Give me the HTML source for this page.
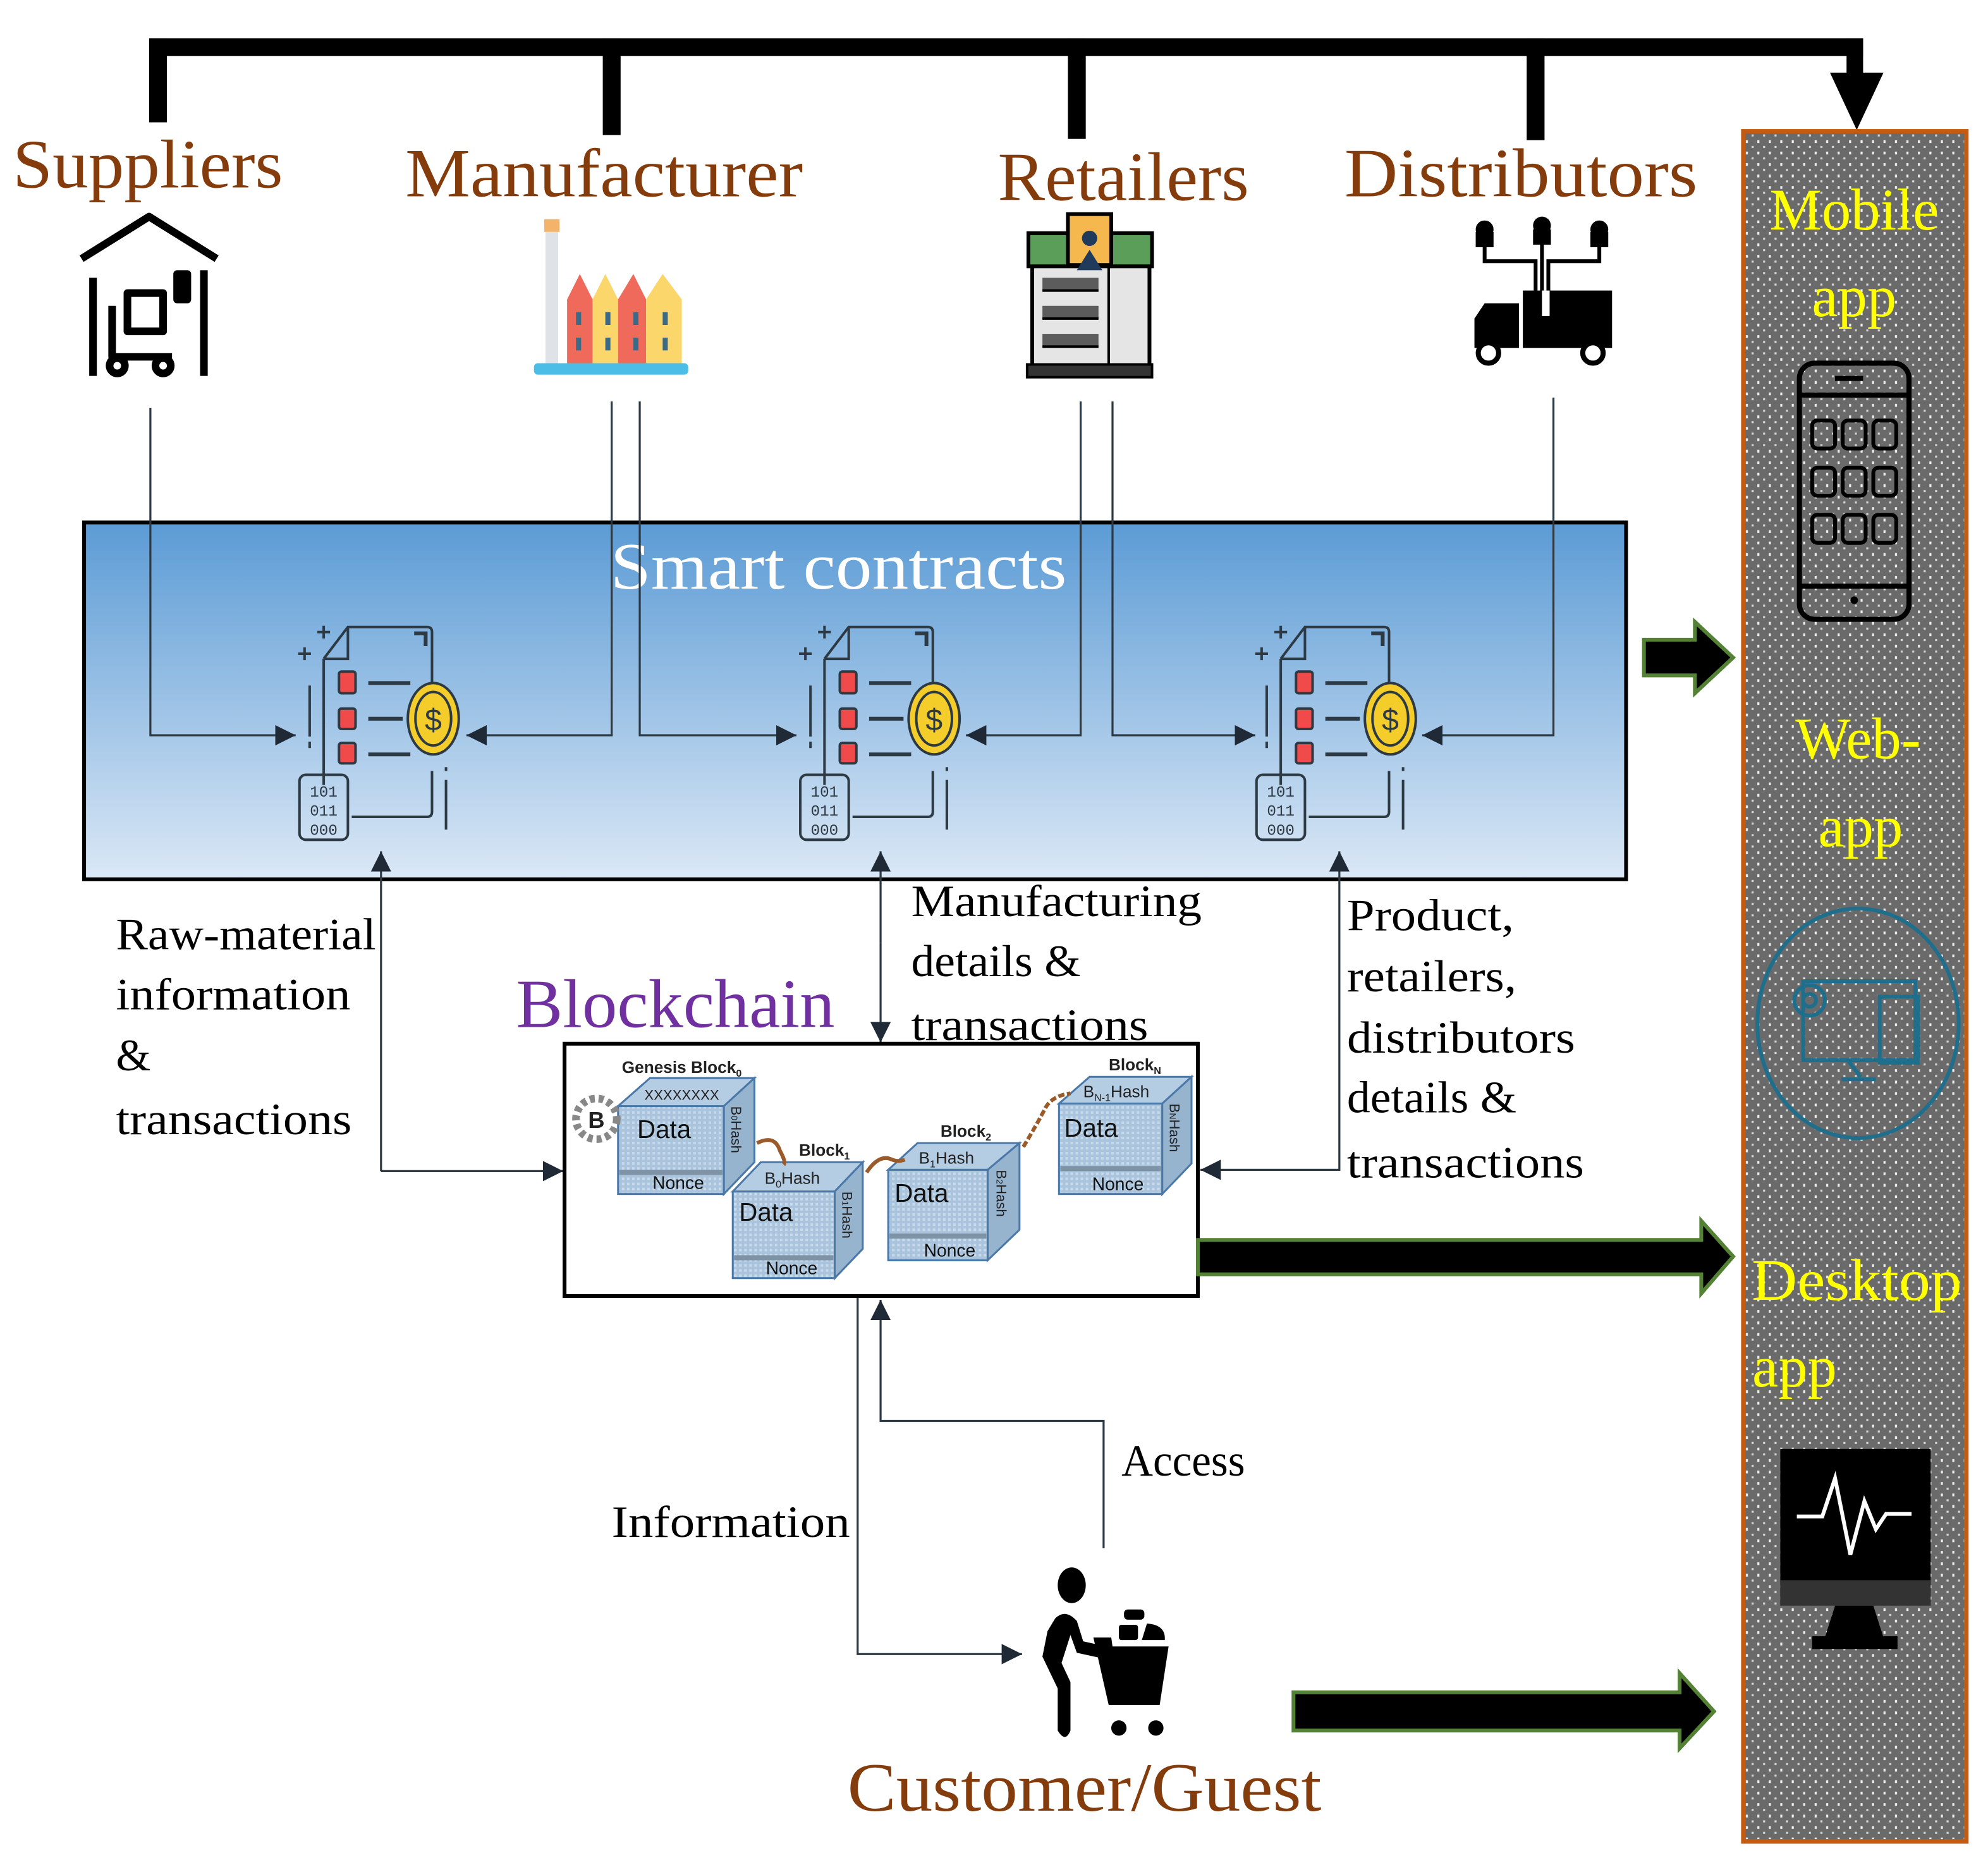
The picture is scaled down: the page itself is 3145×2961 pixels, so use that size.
<!DOCTYPE html>
<html><head><meta charset="utf-8"><style>
html,body{margin:0;padding:0;background:#fff;}
svg{display:block;}
</style></head><body>
<svg width="3145" height="2961" viewBox="0 0 1560 1469" preserveAspectRatio="none" xmlns="http://www.w3.org/2000/svg">
<defs>
<linearGradient id="sc" x1="0" y1="0" x2="0" y2="1">
<stop offset="0" stop-color="#5b9bd5"/><stop offset="1" stop-color="#dbe8f6"/>
</linearGradient>
<pattern id="dots" width="9" height="9" patternUnits="userSpaceOnUse">
<rect width="9" height="9" fill="#6a6a6a"/><rect x="2" y="2" width="1.6" height="2.2" fill="#f0f0f0"/><rect x="6.5" y="6.5" width="1.6" height="1.6" fill="#d8d8d8"/>
</pattern>
<pattern id="grid" width="4" height="4" patternUnits="userSpaceOnUse">
<rect width="4" height="4" fill="#a9c4dc"/><rect width="2" height="2" fill="#c9dbea"/>
</pattern>
<marker id="ar" viewBox="0 0 10 10" refX="10" refY="5" markerWidth="16" markerHeight="16" markerUnits="userSpaceOnUse" orient="auto"><path d="M0,0 L10,5 L0,10 z" fill="#1f2a36"/></marker>
<g id="contract" fill="none" stroke="#2d3a44" stroke-width="2">
<path d="M254 517 L254 616"/>
<path d="M254 517 L273 492 L335 492 Q339 492 339 496 L339 545"/>
<path d="M254 517 L273 517 L273 492"/>
<path d="M339 605 L339 637 Q339 641 335 641 L276 641"/>
<path d="M325 497 L334 497 L334 507" stroke-width="3"/>
<rect x="266" y="527" width="13" height="17" rx="2" fill="#f04a4a"/>
<rect x="266" y="556" width="13" height="16" rx="2" fill="#f04a4a"/>
<rect x="266" y="583" width="13" height="16" rx="2" fill="#f04a4a"/>
<path d="M289 536 L322 536 M289 564 L316 564 M289 592 L322 592" stroke-width="3"/>
<ellipse cx="340" cy="564" rx="20" ry="28" fill="#f5cd2a"/>
<ellipse cx="340" cy="564" rx="14" ry="21"/>
<text x="340" y="573" font-family="Liberation Sans, sans-serif" font-size="24" fill="#2d3a44" stroke="none" text-anchor="middle">$</text>
<rect x="235" y="608" width="38" height="51" rx="5"/>
<text x="254" y="625" font-family="Liberation Mono, monospace" font-size="12" fill="#2d3a44" stroke="none" text-anchor="middle">101</text>
<text x="254" y="640" font-family="Liberation Mono, monospace" font-size="12" fill="#2d3a44" stroke="none" text-anchor="middle">011</text>
<text x="254" y="655" font-family="Liberation Mono, monospace" font-size="12" fill="#2d3a44" stroke="none" text-anchor="middle">000</text>
<path d="M243 538 L243 578 M243 582 L243 587 M350 602 L350 605 M350 612 L350 651"/>
<path d="M249 496 L259 496 M254 491 L254 501 M234 513 L244 513 M239 508 L239 518"/>
</g>
</defs>

<!-- top bus -->
<g fill="#000">
<rect x="118" y="30" width="1344" height="14"/>
<rect x="117" y="30" width="14" height="66"/>
<rect x="473" y="30" width="14" height="76"/>
<rect x="838" y="30" width="14" height="79"/>
<rect x="1198" y="30" width="14" height="80"/>
<rect x="1449" y="30" width="13" height="30"/>
<path d="M1436 57 L1478 57 L1457 102 z"/>
</g>

<!-- stakeholder labels -->
<g font-family="Liberation Serif, serif" fill="#843c0c" font-size="54">
<text x="10" y="147" textLength="212" lengthAdjust="spacingAndGlyphs">Suppliers</text>
<text x="318" y="154" textLength="312" lengthAdjust="spacingAndGlyphs">Manufacturer</text>
<text x="783" y="157" textLength="197" lengthAdjust="spacingAndGlyphs">Retailers</text>
<text x="1055" y="154" textLength="277" lengthAdjust="spacingAndGlyphs">Distributors</text>
</g>

<!-- supplier icon -->
<g fill="none" stroke="#000" stroke-width="6" stroke-linejoin="round">
<path d="M64 203 L117 170 L170 203"/>
<path d="M73 218 L73 295 M160 212 L160 295"/>
<path d="M88 240 L88 280 L135 280 M100 230 L128 230 L128 260 L100 260 z"/>
<circle cx="92" cy="287" r="6"/><circle cx="128" cy="287" r="6"/>
<rect x="139" y="215" width="8" height="20" fill="#000"/>
</g>

<!-- manufacturer icon -->
<g>
<rect x="427" y="172" width="12" height="10" fill="#f4b36a"/>
<rect x="428" y="182" width="10" height="105" fill="#dfe3e8"/>
<path d="M445 287 L445 235 L455 215 L465 235 L465 287z" fill="#f06a5b"/>
<path d="M465 287 L465 235 L475 215 L485 235 L485 287z" fill="#fbd66a"/>
<path d="M485 287 L485 235 L497 215 L507 235 L507 287z" fill="#f06a5b"/>
<path d="M507 287 L507 235 L520 215 L535 235 L535 287z" fill="#fbd66a"/>
<g fill="#3b6a86"><rect x="452" y="245" width="4" height="10"/><rect x="475" y="245" width="4" height="10"/><rect x="497" y="245" width="4" height="10"/><rect x="520" y="245" width="4" height="10"/><rect x="452" y="265" width="4" height="10"/><rect x="475" y="265" width="4" height="10"/><rect x="497" y="265" width="4" height="10"/><rect x="520" y="265" width="4" height="10"/></g>
<rect x="419" y="285" width="121" height="9" rx="3" fill="#4bbde6"/>
</g>

<!-- retailer icon -->
<g>
<rect x="810" y="200" width="92" height="90" fill="#e5e5e5" stroke="#000" stroke-width="3"/>
<rect x="807" y="183" width="97" height="26" fill="#5a9e5a" stroke="#000" stroke-width="3"/>
<rect x="838" y="168" width="34" height="40" fill="#f4b84e" stroke="#000" stroke-width="3"/>
<circle cx="855" cy="187" r="6" fill="#1f3a5a"/>
<path d="M845 212 L855 196 L865 212 z" fill="#1f3a5a"/>
<g stroke="#000" stroke-width="2"><path d="M818 228 L862 228 M818 250 L862 250 M818 272 L862 272"/><path d="M870 210 L870 285"/></g>
<g fill="#000"><rect x="818" y="218" width="44" height="10" opacity=".6"/><rect x="818" y="240" width="44" height="10" opacity=".6"/><rect x="818" y="262" width="44" height="10" opacity=".6"/></g>
<rect x="806" y="286" width="98" height="10" fill="#333" stroke="#000" stroke-width="2"/>
</g>

<!-- distributor icon -->
<g fill="#000">
<circle cx="1165" cy="180" r="7"/><circle cx="1210" cy="177" r="7"/><circle cx="1255" cy="180" r="7"/>
<rect x="1158" y="182" width="14" height="12"/><rect x="1203" y="180" width="14" height="12"/><rect x="1248" y="182" width="14" height="12"/>
<path d="M1165 194 L1165 205 L1205 205 L1205 230 M1255 194 L1255 205 L1215 205 L1215 230 M1210 192 L1210 230" stroke="#000" stroke-width="3" fill="none"/>
<rect x="1195" y="228" width="70" height="45"/>
<path d="M1157 250 L1165 238 L1192 238 L1192 273 L1157 273 z"/>
<circle cx="1168" cy="277" r="8" fill="#fff" stroke="#000" stroke-width="4"/>
<circle cx="1250" cy="277" r="8" fill="#fff" stroke="#000" stroke-width="4"/>
<rect x="1210" y="228" width="6" height="20" fill="#fff"/>
</g>

<!-- right panel -->
<rect x="1368" y="103" width="175" height="1342" fill="url(#dots)" stroke="#c55a11" stroke-width="3.5"/>
<g font-family="Liberation Serif, serif" fill="#ffff00" font-size="46" text-anchor="middle">
<text x="1455" y="180">Mobile</text>
<text x="1455" y="248">app</text>
<text x="1458" y="595">Web-</text>
<text x="1460" y="664">app</text>
<text x="1457" y="1020" textLength="165" lengthAdjust="spacingAndGlyphs">Desktop</text>
<text x="1375" y="1088" text-anchor="start">app</text>
</g>
<!-- phone -->
<g fill="none" stroke="#000" stroke-width="4">
<rect x="1412" y="285" width="86" height="201" rx="12"/>
<path d="M1412 310 L1498 310 M1412 460 L1498 460"/>
<path d="M1440 297 L1462 297"/>
<g stroke-width="3">
<rect x="1422" y="330" width="18" height="22" rx="4"/><rect x="1446" y="330" width="18" height="22" rx="4"/><rect x="1470" y="330" width="18" height="22" rx="4"/>
<rect x="1422" y="367" width="18" height="22" rx="4"/><rect x="1446" y="367" width="18" height="22" rx="4"/><rect x="1470" y="367" width="18" height="22" rx="4"/>
<rect x="1422" y="404" width="18" height="22" rx="4"/><rect x="1446" y="404" width="18" height="22" rx="4"/><rect x="1470" y="404" width="18" height="22" rx="4"/>
</g>
</g>
<circle cx="1455" cy="471" r="3" fill="#000"/>
<!-- web -->
<ellipse cx="1458" cy="803" rx="79" ry="90" fill="none" stroke="#1f6e8c" stroke-width="3"/>
<g fill="none" stroke="#1f6e8c" stroke-width="3">
<rect x="1415" y="770" width="88" height="62"/>
<rect x="1475" y="782" width="30" height="52"/>
<path d="M1450 832 L1460 845 M1445 847 L1472 847"/>
<circle cx="1420" cy="785" r="12"/><circle cx="1420" cy="785" r="5"/>
</g>
<!-- desktop -->
<rect x="1397" y="1137" width="118" height="122" fill="#000"/>
<rect x="1397" y="1240" width="118" height="20" fill="#333"/>
<path d="M1440 1260 L1470 1260 L1478 1285 L1432 1285 z" fill="#000"/>
<rect x="1422" y="1284" width="67" height="10" fill="#000"/>
<path d="M1410 1190 L1430 1190 L1440 1160 L1452 1220 L1463 1178 L1472 1200 L1480 1188 L1500 1188" fill="none" stroke="#fff" stroke-width="3"/>

<!-- smart contracts box -->
<rect x="66" y="410" width="1210" height="280" fill="url(#sc)" stroke="#000" stroke-width="3"/>
<text x="658" y="462" font-family="Liberation Serif, serif" font-size="52" fill="#fff" text-anchor="middle" textLength="358" lengthAdjust="spacingAndGlyphs">Smart contracts</text>
<use href="#contract"/>
<use href="#contract" transform="translate(393 0)"/>
<use href="#contract" transform="translate(751 0)"/>

<!-- thin connectors -->
<g fill="none" stroke="#2d3a44" stroke-width="1.6">
<path d="M118 320 L118 577 L232 577" marker-end="url(#ar)"/>
<path d="M480 315 L480 577 L366 577" marker-end="url(#ar)"/>
<path d="M502 315 L502 577 L625 577" marker-end="url(#ar)"/>
<path d="M848 315 L848 577 L758 577" marker-end="url(#ar)"/>
<path d="M873 315 L873 577 L985 577" marker-end="url(#ar)"/>
<path d="M1219 312 L1219 577 L1116 577" marker-end="url(#ar)"/>
<path d="M299 919 L299 668" marker-end="url(#ar)"/>
<path d="M299 919 L442 919" marker-end="url(#ar)"/>
<path d="M691 740 L691 668" marker-end="url(#ar)"/>
<path d="M691 740 L691 818" marker-end="url(#ar)"/>
<path d="M1051 800 L1051 668" marker-end="url(#ar)"/>
<path d="M1051 800 L1051 918 L942 918" marker-end="url(#ar)"/>
<path d="M673 1018 L673 1298 L802 1298" marker-end="url(#ar)"/>
<path d="M866 1215 L866 1115 L691 1115 L691 1020" marker-end="url(#ar)"/>
</g>

<!-- labels -->
<g font-family="Liberation Serif, serif" font-size="35" fill="#000" lengthAdjust="spacingAndGlyphs">
<text x="91" y="745" textLength="204" lengthAdjust="spacingAndGlyphs">Raw-material</text>
<text x="91" y="792" textLength="184" lengthAdjust="spacingAndGlyphs">information</text>
<text x="91" y="840">&amp;</text>
<text x="91" y="890" textLength="185" lengthAdjust="spacingAndGlyphs">transactions</text>
<text x="715" y="719" textLength="228" lengthAdjust="spacingAndGlyphs">Manufacturing</text>
<text x="715" y="766" textLength="133" lengthAdjust="spacingAndGlyphs">details &amp;</text>
<text x="715" y="816" textLength="186" lengthAdjust="spacingAndGlyphs">transactions</text>
<text x="1057" y="730" textLength="131" lengthAdjust="spacingAndGlyphs">Product,</text>
<text x="1057" y="778" textLength="133" lengthAdjust="spacingAndGlyphs">retailers,</text>
<text x="1057" y="826" textLength="179" lengthAdjust="spacingAndGlyphs">distributors</text>
<text x="1057" y="873" textLength="133" lengthAdjust="spacingAndGlyphs">details &amp;</text>
<text x="1057" y="924" textLength="186" lengthAdjust="spacingAndGlyphs">transactions</text>
<text x="880" y="1158" textLength="97" lengthAdjust="spacingAndGlyphs">Access</text>
<text x="480" y="1206" textLength="187" lengthAdjust="spacingAndGlyphs">Information</text>
</g>
<text x="405" y="806" font-family="Liberation Serif, serif" font-size="54" fill="#7030a0" textLength="250" lengthAdjust="spacingAndGlyphs">Blockchain</text>

<!-- blockchain box -->
<rect x="443" y="819" width="497" height="198" fill="#fff" stroke="#000" stroke-width="3"/>
<g font-family="Liberation Sans, sans-serif">
<g stroke="#4a78a8" stroke-width="1.5">
<path d="M485 868 L510 846 L592 846 L568 868 z" fill="#b5cde2"/>
<path d="M568 868 L592 846 L592 912 L568 937 z" fill="#97b4cf"/>
<rect x="485" y="868" width="83" height="69" fill="url(#grid)"/>
</g>
<rect x="486" y="918" width="81" height="4" fill="#7f93a6"/>
<text x="535" y="863" font-size="11" text-anchor="middle" fill="#222">XXXXXXXX</text>
<text x="500" y="893" font-size="20" fill="#111">Data</text>
<text x="512" y="933" font-size="14" fill="#111">Nonce</text>
<text x="488" y="842" font-size="13" font-weight="bold" fill="#222">Genesis Block<tspan font-size="8" dy="3">0</tspan></text>
<circle cx="468" cy="878" r="16" fill="#fff" stroke="#888" stroke-width="6" stroke-dasharray="4 3"/>
<text x="468" y="885" font-size="18" font-weight="bold" text-anchor="middle" fill="#222">B</text>
<g stroke="#4a78a8" stroke-width="1.5">
<path d="M575 935 L597 912 L677 912 L655 935 z" fill="#b5cde2"/>
<path d="M655 935 L677 912 L677 980 L655 1003 z" fill="#97b4cf"/>
<rect x="575" y="935" width="80" height="68" fill="url(#grid)"/>
</g>
<rect x="576" y="985" width="78" height="4" fill="#7f93a6"/>
<text x="600" y="929" font-size="13" fill="#222">B<tspan font-size="8" dy="3">0</tspan><tspan dy="-3">Hash</tspan></text>
<text x="580" y="958" font-size="20" fill="#111">Data</text>
<text x="601" y="1000" font-size="14" fill="#111">Nonce</text>
<text x="627" y="907" font-size="13" font-weight="bold" fill="#222">Block<tspan font-size="8" dy="3">1</tspan></text>
<g stroke="#4a78a8" stroke-width="1.5">
<path d="M697 918 L720 897 L800 897 L775 918 z" fill="#b5cde2"/>
<path d="M775 918 L800 897 L800 965 L775 989 z" fill="#97b4cf"/>
<rect x="697" y="918" width="78" height="71" fill="url(#grid)"/>
</g>
<rect x="698" y="968" width="76" height="4" fill="#7f93a6"/>
<text x="721" y="913" font-size="13" fill="#222">B<tspan font-size="8" dy="3">1</tspan><tspan dy="-3">Hash</tspan></text>
<text x="702" y="943" font-size="20" fill="#111">Data</text>
<text x="725" y="986" font-size="14" fill="#111">Nonce</text>
<text x="738" y="892" font-size="13" font-weight="bold" fill="#222">Block<tspan font-size="8" dy="3">2</tspan></text>
<g stroke="#4a78a8" stroke-width="1.5">
<path d="M831 866 L855 845 L935 845 L912 866 z" fill="#b5cde2"/>
<path d="M912 866 L935 845 L935 913 L912 937 z" fill="#97b4cf"/>
<rect x="831" y="866" width="81" height="71" fill="url(#grid)"/>
</g>
<rect x="832" y="915" width="79" height="4" fill="#7f93a6"/>
<text x="850" y="861" font-size="13" fill="#222">B<tspan font-size="8" dy="3">N-1</tspan><tspan dy="-3">Hash</tspan></text>
<text x="835" y="892" font-size="20" fill="#111">Data</text>
<text x="857" y="934" font-size="14" fill="#111">Nonce</text>
<text x="870" y="840" font-size="13" font-weight="bold" fill="#222">Block<tspan font-size="8" dy="3">N</tspan></text>
<g font-size="11" fill="#222">
<text transform="translate(574 868) rotate(90)">B<tspan font-size="7">0</tspan>Hash</text>
<text transform="translate(661 935) rotate(90)">B<tspan font-size="7">1</tspan>Hash</text>
<text transform="translate(782 918) rotate(90)">B<tspan font-size="7">2</tspan>Hash</text>
<text transform="translate(918 866) rotate(90)">B<tspan font-size="7">N</tspan>Hash</text>
</g>
</g>
<g fill="none" stroke="#9a5a2a" stroke-width="3">
<path d="M594 897 Q608 890 612 903 Q617 912 615 914"/>
<path d="M680 920 Q690 905 700 910 Q705 912 710 910"/>
<path d="M803 900 Q815 880 820 870 Q825 860 840 858" stroke-dasharray="5 2"/>
</g>

<!-- block arrows -->
<g fill="#000" stroke="#548235" stroke-width="3">
<path d="M1290 502 L1330 502 L1330 488 L1360 516 L1330 544 L1330 530 L1290 530 z"/>
<path d="M940 973 L1335 973 L1335 958 L1360 986 L1335 1015 L1335 1000 L940 1000 z"/>
<path d="M1015 1328 L1318 1328 L1318 1313 L1345 1343 L1318 1372 L1318 1358 L1015 1358 z"/>
</g>

<!-- customer icon -->
<g fill="#000">
<ellipse cx="841" cy="1244" rx="11" ry="14"/>
<path d="M828 1270 Q836 1262 845 1272 L850 1288 L868 1292 Q873 1296 868 1302 L845 1297 L840 1283 L833 1305 L840 1320 L840 1358 Q836 1368 830 1358 L830 1325 L818 1300 L822 1280 z"/>
<path d="M858 1285 L872 1285 L873 1292 L917 1292 L910 1338 L870 1338 z"/>
<circle cx="878" cy="1356" r="6"/><circle cx="907" cy="1356" r="6"/>
<rect x="878" y="1275" width="15" height="12" rx="2"/><path d="M896 1287 L900 1274 Q915 1275 914 1287 z"/>
<rect x="882" y="1263" width="16" height="8" rx="3"/>
</g>
<text x="665" y="1421" font-family="Liberation Serif, serif" font-size="54" fill="#843c0c" textLength="372" lengthAdjust="spacingAndGlyphs">Customer/Guest</text>
</svg>
</body></html>
